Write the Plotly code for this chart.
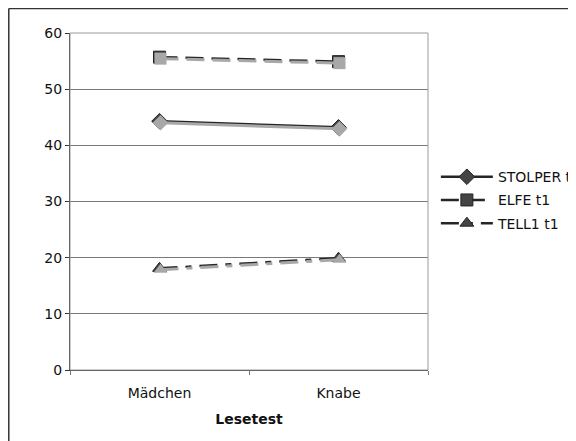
import plotly.graph_objects as go

categories = ["Mädchen", "Knabe"]
stolper = [44.3, 43.2]
elfe = [55.7, 54.9]
tell1 = [18.1, 19.9]
series_names = ["STOLPER t1", "ELFE t1", "TELL1 t1"]

series = [
    (series_names[0], stolper, "solid", "diamond", 12),
    (series_names[1], elfe, "18px,8px", "square", 12),
    (series_names[2], tell1, "18px,8px,6px,8px", "triangle-up", 12),
]

line_col = "#262626"
shadow_col = "#a8a8a8"
fig = go.Figure()
# shadow copies drawn on slightly shifted overlay axes
for name, vals, dash, sym, sz in series:
    fig.add_trace(go.Scatter(x=categories, y=vals, mode="lines+markers", showlegend=False,
                             hoverinfo="skip", xaxis="x2", yaxis="y2",
                             line=dict(color=shadow_col, width=3, dash=dash),
                             marker=dict(symbol=sym, size=sz, color=shadow_col)))
for i, (name, vals, dash, sym, sz) in enumerate(series):
    fig.add_trace(go.Scatter(x=categories, y=vals, name=name, mode="lines+markers",
                             legendgroup=str(i),
                             line=dict(color=line_col, width=2.5, dash=dash),
                             marker=dict(symbol=sym, size=sz, color="#444444",
                                         line=dict(color="#222", width=1))))

pw = 358.0
ph = 337.0
fig.update_layout(
    width=568, height=433,
    margin=dict(l=62, r=148, t=25, b=71, autoexpand=False),
    paper_bgcolor="white", plot_bgcolor="white",
    font=dict(family="DejaVu Sans", size=14, color="#111"),
    legend=dict(x=1.022, y=0.504, xanchor="left", yanchor="middle",
                font=dict(size=14), tracegroupgap=2, itemwidth=52),
    shapes=[
        dict(type="line", xref="paper", yref="paper", x0=-0.171, x1=1.5, y0=1.0727, y1=1.0727,
             line=dict(color="#333", width=1.5)),
        dict(type="line", xref="paper", yref="paper", x0=-0.171, x1=-0.171, y0=1.0727, y1=-0.3,
             line=dict(color="#333", width=1.5)),
        dict(type="rect", xref="paper", yref="paper", x0=0, x1=1, y0=0, y1=1,
             line=dict(color="#9a9a9a", width=1)),
    ],
    xaxis2=dict(type="category", overlaying="x", range=[-0.5 - 1.0 / (pw / 2), 1.5 - 1.0 / (pw / 2)],
                visible=False),
    yaxis2=dict(overlaying="y", range=[0 + 60 * 1.5 / ph, 60 + 60 * 1.5 / ph], visible=False),
    xaxis=dict(type="category", range=[-0.5, 1.5], showgrid=False,
               showline=True, linecolor="#333", linewidth=1,
               ticks="outside", ticklen=4, tickson="boundaries", tickcolor="#777",
               ticklabelstandoff=10,
               title=dict(text="<b>Lesetest</b>", font=dict(size=14), standoff=14),
               tickfont=dict(size=14)),
    yaxis=dict(range=[0, 60], dtick=10, showgrid=True, gridcolor="#7a7a7a", gridwidth=1,
               showline=True, linecolor="#333", linewidth=1, zeroline=False,
               ticks="outside", ticklen=4, tickcolor="#333", tickfont=dict(size=14)),
)

fig.write_html("out.html")
